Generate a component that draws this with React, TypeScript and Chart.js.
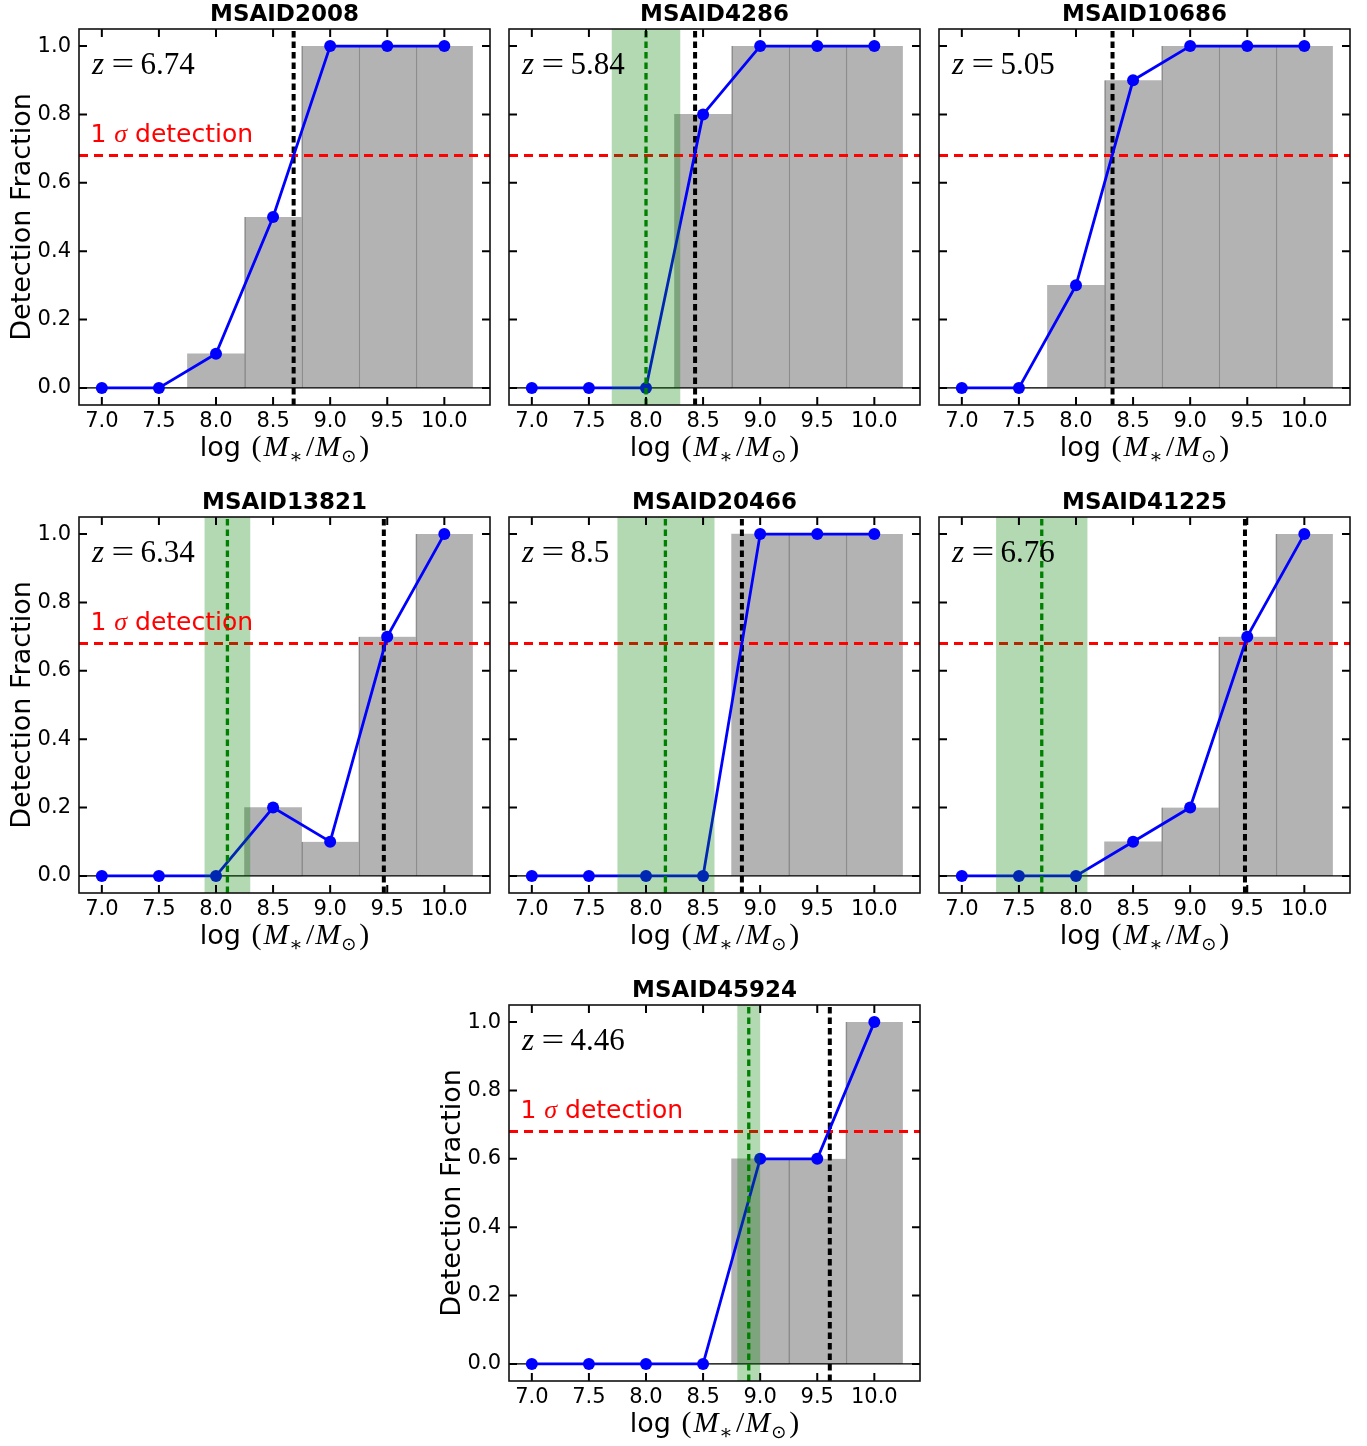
import React, { useEffect, useRef } from "react";
import { Chart, registerables } from "chart.js";

Chart.register(...registerables);
Chart.defaults.font.family = '"DejaVu Sans"';

// ---------------- data ----------------
const massBins = [7.0, 7.5, 8.0, 8.5, 9.0, 9.5, 10.0];
const xTickValues = [7.0, 7.5, 8.0, 8.5, 9.0, 9.5, 10.0];
const yTickValues = [0.0, 0.2, 0.4, 0.6, 0.8, 1.0];

const panelIds = ["MSAID2008", "MSAID4286", "MSAID10686", "MSAID13821", "MSAID20466", "MSAID41225", "MSAID45924"];
const redshifts = ["6.74", "5.84", "5.05", "6.34", "8.5", "6.76", "4.46"];

const frac2008 = [0, 0, 0.1, 0.5, 1, 1, 1];
const frac4286 = [0, 0, 0, 0.8, 1, 1, 1];
const frac10686 = [0, 0, 0.3, 0.9, 1, 1, 1];
const frac13821 = [0, 0, 0, 0.2, 0.1, 0.7, 1];
const frac20466 = [0, 0, 0, 0, 1, 1, 1];
const frac41225 = [0, 0, 0, 0.1, 0.2, 0.7, 1];
const frac45924 = [0, 0, 0, 0, 0.6, 0.6, 1];
const panelFractions = [frac2008, frac4286, frac10686, frac13821, frac20466, frac41225, frac45924];

// mass where detection fraction crosses the 1 sigma level (black dashed)
const limitMass = [8.68, 8.43, 8.32, 9.47, 8.84, 9.48, 9.61];
// SED stellar mass and its range (green)
const sedMass = [null, 8.0, null, 8.1, 8.17, 7.7, 8.9];
const sedMassLow = [null, 7.7, null, 7.9, 7.75, 7.3, 8.8];
const sedMassHigh = [null, 8.3, null, 8.3, 8.6, 8.1, 9.0];

const detectionLevel = 0.68;
const sigmaLabelX = 6.9;
const sigmaLabelY = 0.72;
const xMin = 6.8, xMax = 10.4, yMin = -0.05, yMax = 1.05;

// ---------------- layout ----------------
const AX_W = 411, AX_H = 376;
const PAD_L = 80, PAD_T = 30, PAD_R = 10, PAD_B = 70;
const CW = PAD_L + AX_W + PAD_R;
const CH = PAD_T + AX_H + PAD_B;
const panelPos: [number, number][] = [
  [79, 29], [509, 29], [939, 29],
  [79, 517], [509, 517], [939, 517],
  [509, 1005],
];
const showYLabels = [true, false, false, true, false, false, true];

type Part = { t: string; f: string; dy?: number; gap?: number };

function drawParts(ctx: CanvasRenderingContext2D, parts: Part[], x: number, y: number, align: "left" | "center") {
  let total = 0;
  const widths = parts.map((p) => {
    ctx.font = p.f;
    const w = ctx.measureText(p.t).width + (p.gap || 0);
    total += w;
    return w;
  });
  let cx = align === "center" ? x - total / 2 : x;
  ctx.textAlign = "left";
  ctx.textBaseline = "alphabetic";
  parts.forEach((p, k) => {
    ctx.font = p.f;
    ctx.fillText(p.t, cx, y + (p.dy || 0));
    cx += widths[k];
  });
}

function makePlugin(i: number) {
  return {
    id: "decor" + i,
    afterDatasetDraw(chart: any, args: any) {
      if (args.meta.type !== "bar") return;
      const { ctx, chartArea: a } = chart;
      const x = chart.scales.x, y = chart.scales.y;
      ctx.save();
      ctx.beginPath();
      ctx.rect(a.left, a.top, a.right - a.left, a.bottom - a.top);
      ctx.clip();
      // zero line
      const y0 = y.getPixelForValue(0);
      ctx.strokeStyle = "#000";
      ctx.lineWidth = 1.2;
      ctx.setLineDash([]);
      ctx.beginPath();
      ctx.moveTo(a.left, y0);
      ctx.lineTo(a.right, y0);
      ctx.stroke();
      // 1 sigma line
      const yr = y.getPixelForValue(detectionLevel);
      ctx.strokeStyle = "#ff0000";
      ctx.lineWidth = 3;
      ctx.setLineDash([9, 6]);
      ctx.beginPath();
      ctx.moveTo(a.left, yr);
      ctx.lineTo(a.right, yr);
      ctx.stroke();
      // limit mass
      const xl = x.getPixelForValue(limitMass[i]);
      ctx.strokeStyle = "#000";
      ctx.lineWidth = 4;
      ctx.setLineDash([6.5, 4]);
      ctx.beginPath();
      ctx.moveTo(xl, a.bottom);
      ctx.lineTo(xl, a.top);
      ctx.stroke();
      ctx.restore();
    },
    afterDatasetsDraw(chart: any) {
      const m = sedMass[i];
      if (m === null) return;
      const { ctx, chartArea: a } = chart;
      const x = chart.scales.x;
      ctx.save();
      ctx.beginPath();
      ctx.rect(a.left, a.top, a.right - a.left, a.bottom - a.top);
      ctx.clip();
      const x1 = x.getPixelForValue(sedMassLow[i] as number);
      const x2 = x.getPixelForValue(sedMassHigh[i] as number);
      ctx.fillStyle = "rgba(0,128,0,0.3)";
      ctx.fillRect(x1, a.top, x2 - x1, a.bottom - a.top);
      const xm = x.getPixelForValue(m);
      ctx.strokeStyle = "#008000";
      ctx.lineWidth = 3.3;
      ctx.setLineDash([6.5, 4]);
      ctx.beginPath();
      ctx.moveTo(xm, a.bottom);
      ctx.lineTo(xm, a.top);
      ctx.stroke();
      ctx.restore();
    },
    afterDraw(chart: any) {
      const { ctx, chartArea: a } = chart;
      const x = chart.scales.x, y = chart.scales.y;
      ctx.save();
      ctx.setLineDash([]);
      // inward ticks
      ctx.strokeStyle = "#000";
      ctx.lineWidth = 2;
      const TL = 8;
      xTickValues.forEach((v) => {
        const px = x.getPixelForValue(v);
        ctx.beginPath();
        ctx.moveTo(px, a.bottom);
        ctx.lineTo(px, a.bottom - TL);
        ctx.moveTo(px, a.top);
        ctx.lineTo(px, a.top + TL);
        ctx.stroke();
      });
      yTickValues.forEach((v) => {
        const py = y.getPixelForValue(v);
        ctx.beginPath();
        ctx.moveTo(a.left, py);
        ctx.lineTo(a.left + TL, py);
        ctx.moveTo(a.right, py);
        ctx.lineTo(a.right - TL, py);
        ctx.stroke();
      });
      // spines
      ctx.lineWidth = 1.6;
      ctx.strokeStyle = "#111";
      ctx.strokeRect(a.left, a.top, a.right - a.left, a.bottom - a.top);

      const cx = (a.left + a.right) / 2;
      // title
      ctx.fillStyle = "#000";
      ctx.font = 'bold 23px "DejaVu Sans"';
      ctx.textAlign = "center";
      ctx.textBaseline = "alphabetic";
      ctx.fillText(panelIds[i], cx, a.top - 7.6);

      // redshift label
      const zx = a.left + 13, zy = a.top + 45;
      ctx.font = 'italic 31px "Liberation Serif"';
      ctx.textAlign = "left";
      ctx.fillText("z", zx, zy);
      ctx.save();
      ctx.font = '31px "Liberation Serif"';
      ctx.translate(zx + 19.5, zy);
      ctx.scale(1.3, 1);
      ctx.fillText("=", 0, 0);
      ctx.restore();
      ctx.font = '31px "Liberation Serif"';
      ctx.fillText(redshifts[i], zx + 48.5, zy);

      // 1 sigma label
      if (showYLabels[i]) {
        ctx.fillStyle = "#ff0000";
        drawParts(
          ctx,
          [
            { t: "1 ", f: '25px "DejaVu Sans"' },
            { t: "σ", f: 'italic 26px "Liberation Serif"' },
            { t: " detection", f: '25px "DejaVu Sans"' },
          ],
          x.getPixelForValue(sigmaLabelX),
          y.getPixelForValue(sigmaLabelY),
          "left"
        );
      }

      // x label
      ctx.fillStyle = "#000";
      drawParts(
        ctx,
        [
          { t: "log ", f: '27px "DejaVu Sans"', gap: 2 },
          { t: "(", f: '30px "Liberation Serif"', gap: 2 },
          { t: "M", f: 'italic 30px "Liberation Serif"', gap: 1 },
          { t: "∗", f: '20px "DejaVu Serif"', dy: 7, gap: 3 },
          { t: "/", f: '30px "Liberation Serif"', gap: 1 },
          { t: "M", f: 'italic 30px "Liberation Serif"', gap: 1 },
          { t: "⊙", f: '18px "DejaVu Sans"', dy: 6, gap: 3 },
          { t: ")", f: '30px "Liberation Serif"' },
        ],
        cx,
        a.bottom + 51,
        "center"
      );

      // y label
      if (showYLabels[i]) {
        ctx.save();
        ctx.translate(a.left - 49, (a.top + a.bottom) / 2);
        ctx.rotate(-Math.PI / 2);
        ctx.font = '27px "DejaVu Sans"';
        ctx.textAlign = "center";
        ctx.textBaseline = "alphabetic";
        ctx.fillStyle = "#000";
        ctx.fillText("Detection Fraction", 0, 0);
        ctx.restore();
      }
      ctx.restore();
    },
  };
}

function Panel({ index }: { index: number }) {
  const ref = useRef<HTMLCanvasElement>(null);
  useEffect(() => {
    const vals = panelFractions[index];
    const points = massBins.map((m, k) => ({ x: m, y: vals[k] }));
    const chart = new Chart(ref.current as HTMLCanvasElement, {
      type: "bar",
      data: {
        datasets: [
          {
            type: "line",
            data: points,
            borderColor: "#0000ff",
            backgroundColor: "#0000ff",
            borderWidth: 2.8,
            pointRadius: 6,
            pointBorderWidth: 0,
            pointBackgroundColor: "#0000ff",
            tension: 0,
            order: 0,
            clip: false,
          } as any,
          {
            type: "bar",
            data: points,
            backgroundColor: "rgba(128,128,128,0.6)",
            borderColor: "rgba(128,128,128,0.85)",
            borderWidth: (c: any) => ({
              left: c.dataIndex > 0 && vals[c.dataIndex - 1] > 0 ? 1 : 0,
              right: 0,
              top: 0,
              bottom: 0,
            }),
            borderSkipped: false,
            barPercentage: 1,
            categoryPercentage: 1,
            order: 1,
          } as any,
        ],
      },
      options: {
        animation: false,
        responsive: false,
        devicePixelRatio: 1,
        events: [],
        layout: { padding: { left: 0, top: PAD_T, right: PAD_R, bottom: 0 } },
        plugins: { legend: { display: false }, tooltip: { enabled: false }, title: { display: false } },
        scales: {
          x: {
            type: "linear",
            min: xMin,
            max: xMax,
            offset: false,
            grid: { display: false, drawTicks: false },
            border: { display: false },
            afterBuildTicks: (s: any) => {
              s.ticks = xTickValues.map((v) => ({ value: v }));
            },
            afterFit: (s: any) => {
              s.height = PAD_B;
            },
            ticks: {
              autoSkip: false,
              maxRotation: 0,
              padding: 4,
              color: "#000",
              font: { size: 21, family: '"DejaVu Sans"' },
              callback: (v: any) => Number(v).toFixed(1),
            },
          },
          y: {
            type: "linear",
            min: yMin,
            max: yMax,
            grid: { display: false, drawTicks: false },
            border: { display: false },
            afterBuildTicks: (s: any) => {
              s.ticks = yTickValues.map((v) => ({ value: v }));
            },
            afterFit: (s: any) => {
              s.width = PAD_L;
            },
            ticks: {
              display: showYLabels[index],
              autoSkip: false,
              padding: 8,
              color: "#000",
              font: { size: 21, family: '"DejaVu Sans"' },
              callback: (v: any) => Number(v).toFixed(1),
            },
          },
        },
      } as any,
      plugins: [makePlugin(index)],
    });
    return () => chart.destroy();
  }, [index]);
  const [axL, axT] = panelPos[index];
  return (
    <canvas
      ref={ref}
      width={CW}
      height={CH}
      style={{ position: "absolute", left: axL - PAD_L, top: axT - PAD_T, width: CW, height: CH }}
    />
  );
}

export default function App() {
  return (
    <div style={{ position: "absolute", left: 0, top: 0, width: 1367, height: 1446, background: "#fff" }}>
      {panelIds.map((_, k) => (
        <Panel key={k} index={k} />
      ))}
    </div>
  );
}
